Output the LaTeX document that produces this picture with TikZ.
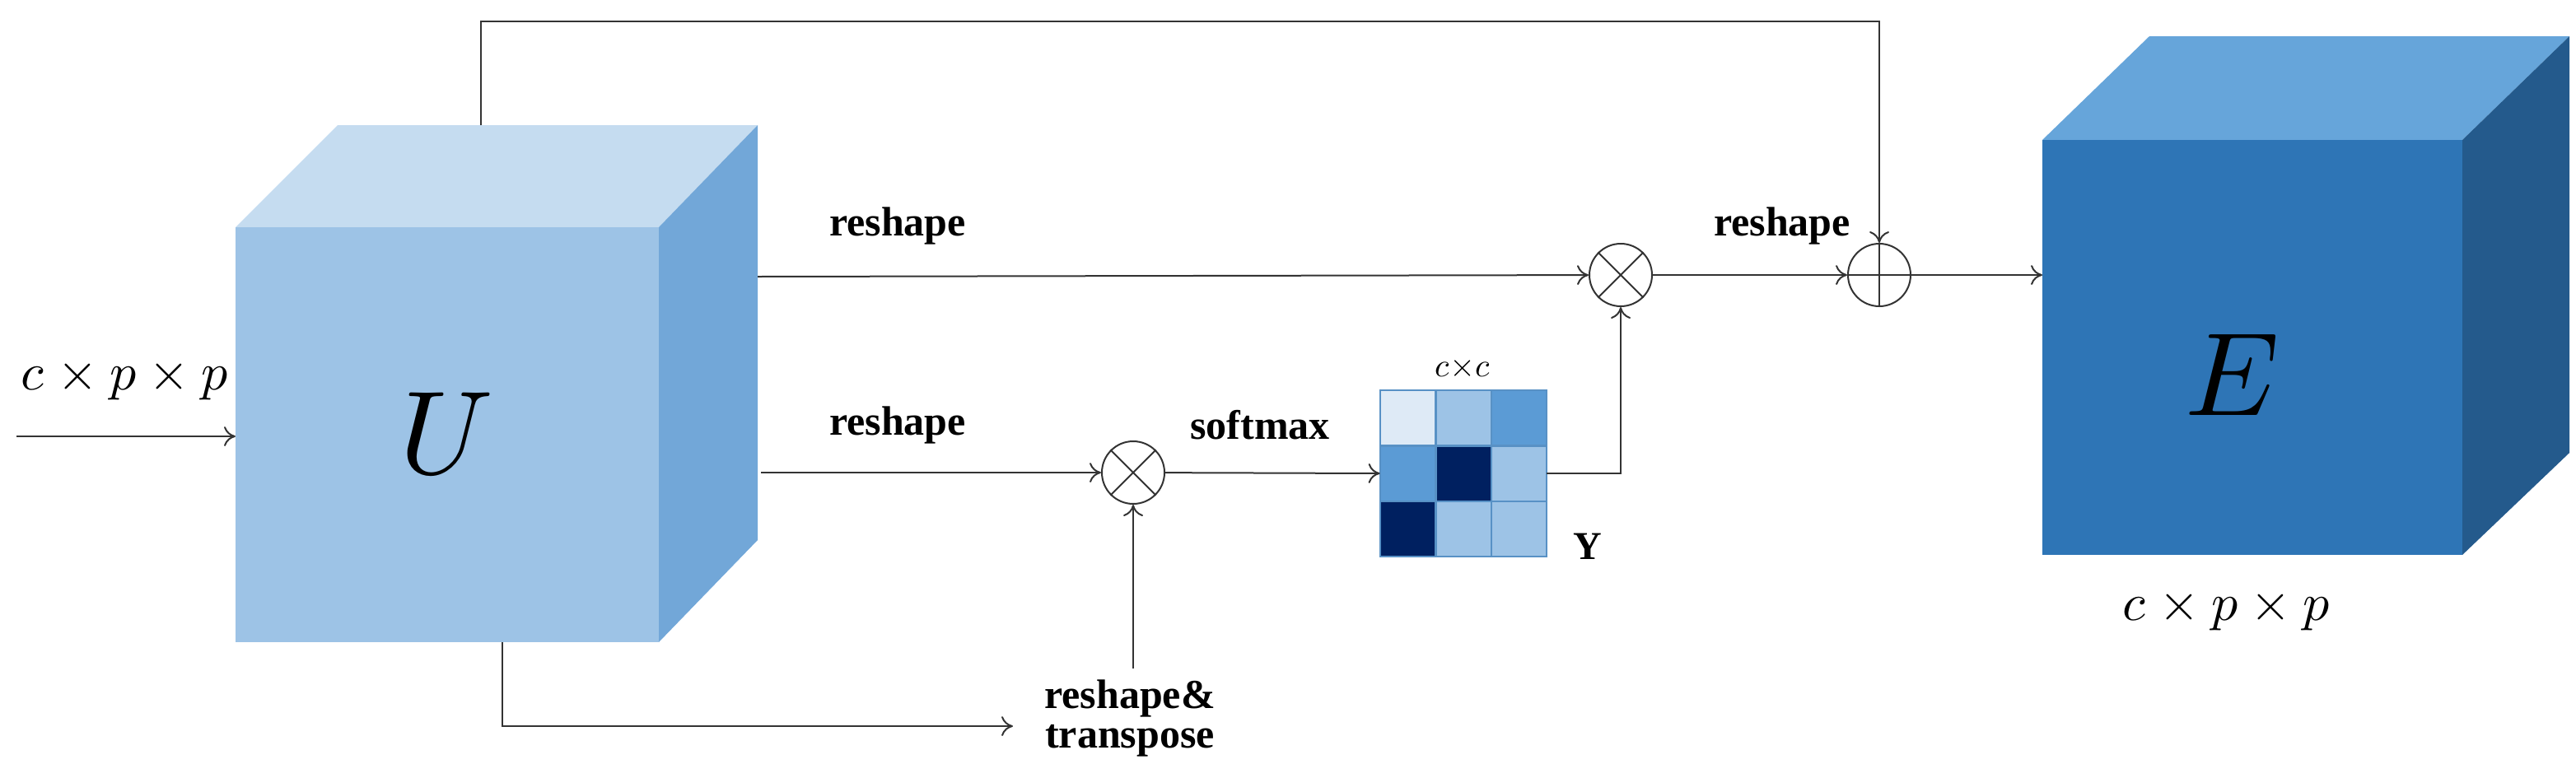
\documentclass[tikz,border=0pt]{standalone}
\usetikzlibrary{arrows.meta}
\usepackage{fontspec}
\setmainfont{Liberation Serif}
\usepackage{unicode-math}
\setmathfont{Latin Modern Math}
\begin{document}
\begin{tikzpicture}[x=1pt,y=-1pt,
  lbl/.style={font=\bfseries\fontsize{25}{28}\selectfont,inner sep=0},
  ln/.style={draw=black!80,line width=1pt},
  arr/.style={ln,-{To[length=7pt,width=12pt]}},
  op/.style={circle,draw=black!80,line width=1pt,minimum size=38pt,inner sep=0}]
\useasboundingbox (0,0) rectangle (1564,472);
\definecolor{uf}{HTML}{9DC3E6}\definecolor{ut}{HTML}{C5DCF0}\definecolor{ur}{HTML}{72A7D8}
\definecolor{ef}{HTML}{2E75B6}\definecolor{et}{HTML}{66A5DA}\definecolor{er}{HTML}{245A8C}
\definecolor{m1}{HTML}{DEEAF6}\definecolor{m2}{HTML}{9DC3E6}\definecolor{m3}{HTML}{5B9BD5}\definecolor{m4}{HTML}{002060}
% U cube
\fill[ut] (143,138)--(205,76)--(460,76)--(400,138)--cycle;
\fill[ur] (400,138)--(460,76)--(460,328)--(400,390)--cycle;
\fill[uf] (143,138) rectangle (400,390);
\node[inner sep=0] (U) at (271,264) {\fontsize{72}{72}\selectfont$U$};
% E cube
\fill[et] (1240,85)--(1305,22)--(1560,22)--(1495,85)--cycle;
\fill[er] (1495,85)--(1560,22)--(1560,275)--(1495,337)--cycle;
\fill[ef] (1240,85) rectangle (1495,337);
\node[inner sep=0] (E) at (1355,228) {\fontsize{72}{72}\selectfont$E$};
\node[inner sep=0] (ecap) at (1352,372) {\fontsize{32}{32}\selectfont$c\times p\times p$};
% input
\coordinate (in) at (10,265);
\coordinate (uin) at (143,265);
\draw[arr] (in)--(uin);
\node[inner sep=0] (ucap) at (76,232) {\fontsize{32}{32}\selectfont$c\times p\times p$};
% operators
\node[op] (m1o) at (984,167) {};
\node[op] (m2o) at (688,287) {};
\node[op] (pl) at (1141,167) {};
\foreach \n in {m1o,m2o}{\draw[ln] (\n.north east)--(\n.south west) (\n.north west)--(\n.south east);}
\draw[ln] (pl.north)--(pl.south) (pl.west)--(pl.east);
% matrix
\def\cs{33.7}
\foreach \c [count=\i from 0] in {m1,m2,m3,m3,m4,m2,m4,m2,m2}{
  \pgfmathtruncatemacro\r{\i/3}\pgfmathtruncatemacro\k{mod(\i,3)}
  \fill[\c,draw=ef!80!white,line width=1.2pt] (838+\k*\cs,237+\r*\cs) rectangle ++(\cs,\cs);}
\node[inner sep=0,minimum width=101pt,minimum height=101pt] (M) at (888.5,287.5) {};
\node[inner sep=0] (cc) at (888,224) {\fontsize{20}{20}\selectfont$c{\times}c$};
\node[font=\bfseries\fontsize{24}{24}\selectfont,inner sep=0] (Y) at (964,332) {Y};
% connectors
\coordinate (u1) at (460,168);
\coordinate (u2) at (462,287);
\draw[arr] (u1)--(m1o);
\node[lbl] (r1) at (545,137) {reshape};
\draw[arr] (u2)--(m2o);
\node[lbl] (r2) at (545,258) {reshape};
\draw[arr] (m2o)--(M.west);
\node[lbl] (sm) at (765,258) {softmax};
\draw[arr] (M.east) -| (m1o.south);
\draw[arr] (m1o)--(pl);
\node[lbl] (r3) at (1082,137) {reshape};
\draw[arr] (pl)--(1240,167) coordinate (ein);
\coordinate (ut) at (292,76);
\draw[arr] (ut)--(292,13)-|(pl.north);
\coordinate (ub) at (305,390);
\coordinate (be) at (615,441);
\draw[arr] (ub)|-(be);
\node[lbl,align=center] (rt) at (686,436) {reshape\&\\[-4pt]transpose};
\coordinate (rtt) at (688,406);
\draw[arr] (rtt)--(m2o);
\end{tikzpicture}
\end{document}
